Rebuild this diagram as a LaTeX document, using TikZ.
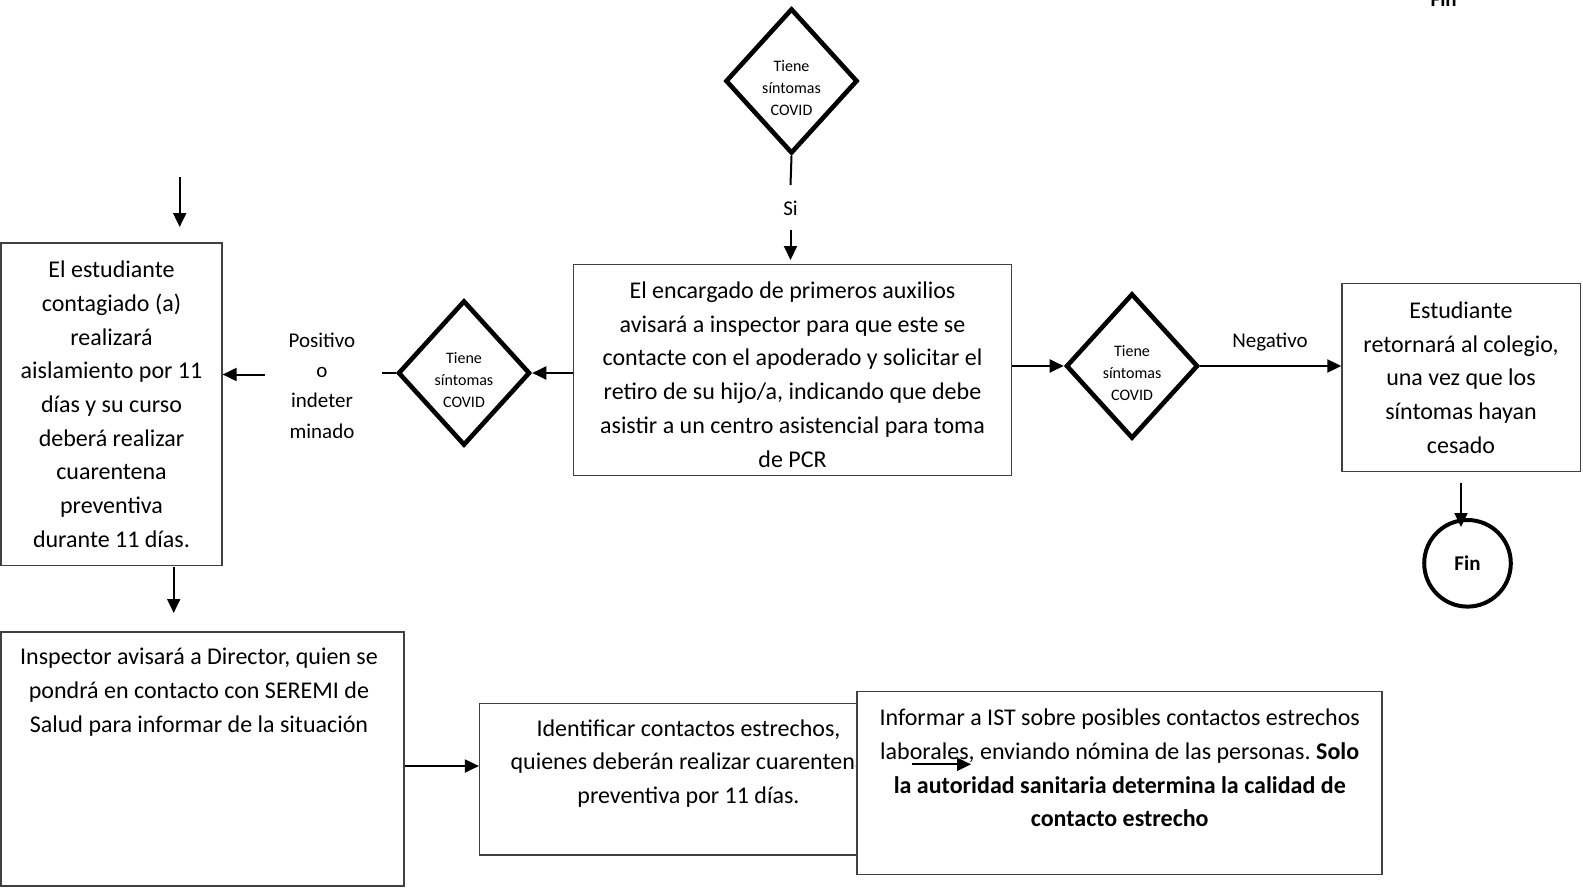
\documentclass[tikz,border=0pt]{standalone}
\usepackage{fontspec}
\setmainfont{Carlito}
\usetikzlibrary{shapes.geometric,arrows.meta,calc}

\tikzset{
  caja/.style={draw=black!75, line width=0.6pt, fill=white, inner sep=0pt, align=center,
    font=\fontsize{12}{16.85}\selectfont\frenchspacing},
  texto/.style={align=center, inner sep=0pt, font=\fontsize{12}{16.85}\selectfont\frenchspacing},
  rombo/.style={diamond, draw, line width=2.3pt, inner sep=0pt,
    minimum width=66pt, minimum height=72.5pt},
  txtrombo/.style={align=center, inner sep=0pt, font=\fontsize{8}{11.1}\selectfont},
  etiq/.style={align=center, inner sep=0pt, font=\fontsize{10.5}{15.2}\selectfont},
  flecha/.style={line width=1pt, -{Triangle[length=7pt,width=6.5pt]}},
  linea/.style={line width=1pt},
}

\begin{document}
\begin{tikzpicture}[x=0.5pt,y=-0.5pt]
\useasboundingbox (0,0) rectangle (1583,888);

% cajas
\node[caja, minimum width=110.5pt, minimum height=161.2pt] (aisla) at (111.5,404.2)
  {El estudiante\\contagiado (a)\\realizará\\aislamiento por 11\\días y su curso\\deberá realizar\\cuarentena\\preventiva\\durante 11 días.};
\node[caja, minimum width=219pt, minimum height=105.5pt] (aviso) at (792.5,370) {};
\node[texto] (txtaviso) at (792.5,374.5)
  {El encargado de primeros auxilios\\avisará a inspector para que este se\\contacte con el apoderado y solicitar el\\retiro de su hijo/a, indicando que debe\\asistir a un centro asistencial para toma\\de PCR};
\node[caja, minimum width=119.1pt, minimum height=93.9pt] (retorno) at (1461,377.6)
  {Estudiante\\retornará al colegio,\\una vez que los\\síntomas hayan\\cesado};

\node[caja, minimum width=201.5pt, minimum height=127pt] (director) at (202.5,759) {};
\node[texto] (txtdirector) at (199,692.3)
  {Inspector avisará a Director, quien se\\pondrá en contacto con SEREMI de\\Salud para informar de la situación};

\node[caja, minimum width=209pt, minimum height=75.65pt] (contactos) at (688.5,779.4) {};
\node[texto] (txtcontactos) at (688.5,763.3)
  {Identificar contactos estrechos,\\quienes deberán realizar cuarentena\\preventiva por 11 días.};

\node[caja, minimum width=262.5pt, minimum height=91.35pt] (ist) at (1119.5,783) {};
\node[texto] (txtist) at (1119.7,768)
  {Informar a IST sobre posibles contactos estrechos\\laborales, enviando nómina de las personas. \textbf{Solo}\\
   \textbf{la autoridad sanitaria determina la calidad de}\\\textbf{contacto estrecho}};

% decisiones
\node[rombo] (sint) at (791.5,81) {};
\node[rombo] (sintA) at (464,373) {};
\node[rombo] (sintB) at (1132,366) {};
\foreach \r in {sint,sintA,sintB}
  {\node[txtrombo] at ($(\r)+(0,7)$) {Tiene\\síntomas\\COVID};}

\node[circle, draw, line width=2pt, minimum size=43.3pt, inner sep=0pt,
  font=\bfseries\fontsize{10.5}{12}\selectfont] (fin) at (1467.5,563.3) {Fin};
\node[anchor=base, inner sep=0pt, font=\bfseries\fontsize{10.5}{12}\selectfont] (fin0) at (1443.7,7) {Fin};

% etiquetas
\node[etiq] (si) at (790.5,208) {Si};
\node[etiq] (pos) at (322,385.5) {Positivo\\o\\indeter\\minado};
\node[etiq] (neg) at (1270,341.7) {Negativo};

% puntos sueltos
\coordinate (s1) at (790.5,185);
\coordinate (s2) at (790.5,230);
\coordinate (s3) at (790.5,260);
\coordinate (p1) at (381.5,373);
\coordinate (p2) at (264.5,374.5);
\coordinate (q1) at (179.7,176.7);
\coordinate (q2) at (179.7,227);
\coordinate (q3) at (173.7,567);
\coordinate (q4) at (173.7,613);
\coordinate (d1) at (405,766);
\coordinate (e1) at (911.7,764.3);
\coordinate (e2) at (971,764.3);
\coordinate (r1) at (1461,482.6);
\coordinate (r2) at (1461,527);

% conectores
\draw[linea] (sint.south) -- (s1);
\draw[flecha] (s2) -- (s3);
\draw[flecha] (sintA.east -| aviso.west) -- (sintA.east);
\draw[linea] (sintA.west) -- (p1);
\draw[flecha] (p2) -- (p2 -| aisla.east);
\draw[flecha] (sintB.west -| aviso.east) -- (sintB.west);
\draw[flecha] (sintB.east) -- (sintB.east -| retorno.west);
\draw[flecha] (r1) -- (r2);
\draw[flecha] (q1) -- (q2);
\draw[flecha] (q3) -- (q4);
\draw[flecha] (d1) -- (d1 -| contactos.west);
\draw[flecha] (e1) -- (e2);

\end{tikzpicture}
\end{document}
